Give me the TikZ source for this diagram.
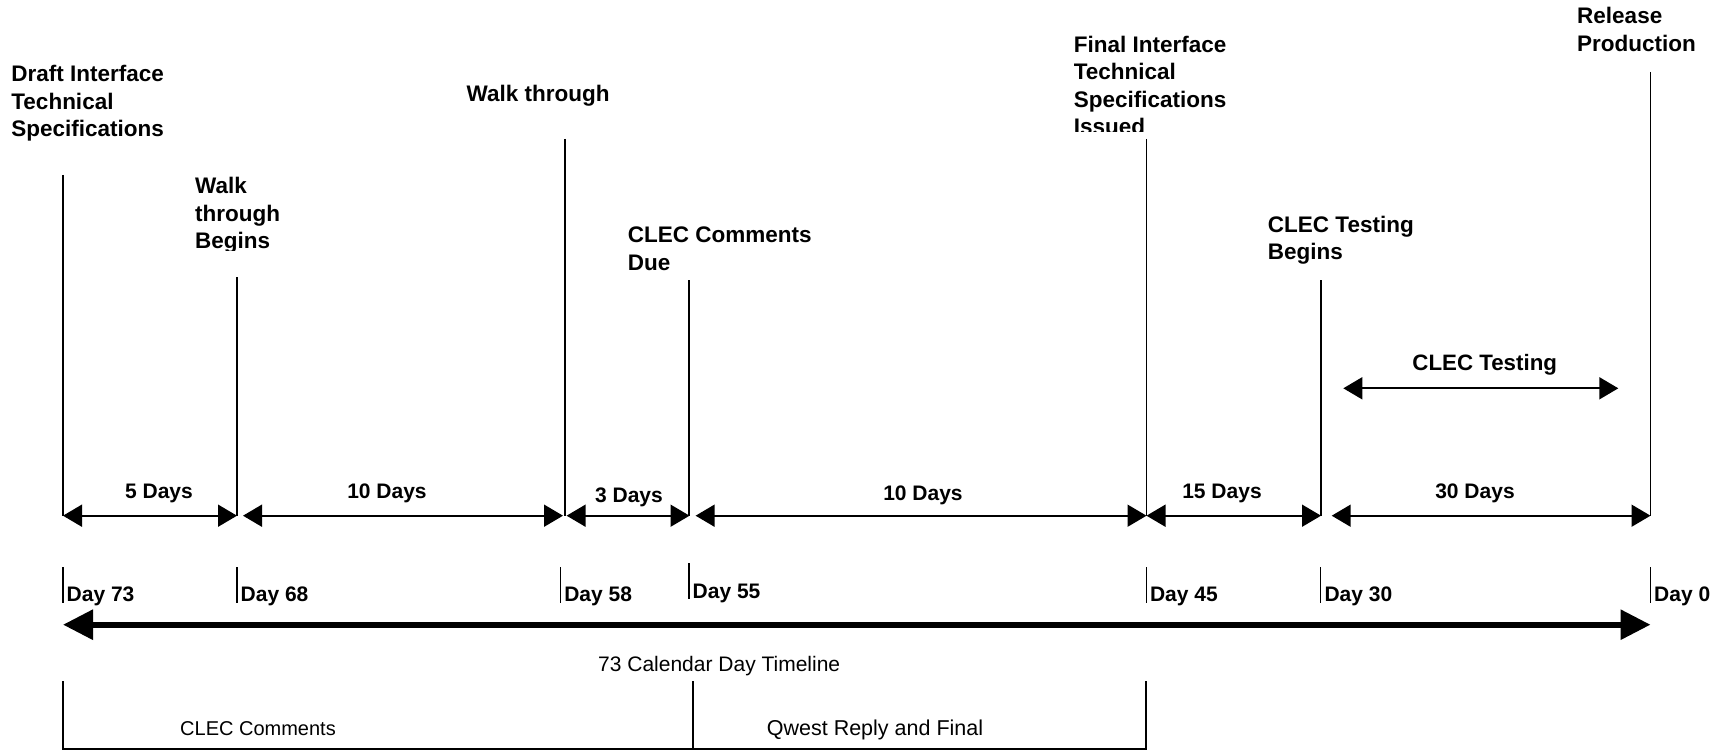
\documentclass[tikz,border=0pt]{standalone}
\usepackage{fontspec}
\setmainfont{Liberation Sans}
\usetikzlibrary{arrows.meta}
\begin{document}
\begin{tikzpicture}[x=1pt,y=-1pt,
  evline/.style={line width=1.8pt},
  dimarrow/.style={line width=1.7pt, {Triangle[length=19pt,width=22pt]}-{Triangle[length=19pt,width=22pt]}},
  bigarrow/.style={line width=6pt, {Triangle[length=30pt,width=29pt]}-{Triangle[length=30pt,width=29pt]}},
  tickline/.style={line width=1.3pt},
  bracketline/.style={line width=1.8pt},
  evlabel/.style={anchor=base west, inner sep=0pt, font=\fontsize{22.5}{27.5}\selectfont\bfseries},
  durlabel/.style={anchor=base, inner sep=0pt, font=\fontsize{21}{25}\selectfont\bfseries},
  daylabel/.style={anchor=base west, inner sep=0pt, font=\fontsize{21}{25}\selectfont\bfseries},
  plainlabel/.style={anchor=base, inner sep=0pt, font=\fontsize{21}{25}\selectfont},
]
\useasboundingbox (0,0) rectangle (1720,751);

% event lines
\coordinate (eA1) at (63,175);    \coordinate (eA2) at (63,516);
\coordinate (eB1) at (237,277);   \coordinate (eB2) at (237,516);
\coordinate (eC1) at (565,139);   \coordinate (eC2) at (565,516);
\coordinate (eD1) at (689,280);   \coordinate (eD2) at (689,516);
\coordinate (eE1) at (1146.5,139);\coordinate (eE2) at (1146.5,516);
\coordinate (eF1) at (1321,280);  \coordinate (eF2) at (1321,516);
\coordinate (eG1) at (1650.5,72); \coordinate (eG2) at (1650.5,516);
\foreach \e in {A,B,C,D,E,F,G} \draw[evline] (e\e1) -- (e\e2);

% event labels
\node[evlabel] (lA) at (11.2,81.7) {\vtop{\hbox{Draft Interface}\hbox{Technical}\hbox{Specifications}}};
\begin{scope}
\clip (150,150) rectangle (400,251);
\node[evlabel] (lB) at (195,194) {\vtop{\hbox{Walk}\hbox{through}\hbox{Begins}}};
\end{scope}
\node[evlabel] (lC) at (466.5,101.7) {Walk through};
\node[evlabel] (lD) at (627.7,242.7) {\vtop{\hbox{CLEC Comments}\hbox{Due}}};
\begin{scope}
\clip (1050,0) rectangle (1300,132);
\node[evlabel] (lE) at (1073.6,52.3) {\vtop{\hbox{Final Interface}\hbox{Technical}\hbox{Specifications}\hbox{Issued}}};
\end{scope}
\node[evlabel] (lF) at (1267.7,232.3) {\vtop{\hbox{CLEC Testing}\hbox{Begins}}};
\node[evlabel] (lG) at (1577,24) {\vtop{\hbox{Release}\hbox{Production}}};

% CLEC testing arrow
\coordinate (ct1) at (1343.3,388.3); \coordinate (ct2) at (1618.3,388.3);
\draw[dimarrow] (ct1) -- (ct2);
\node[durlabel, font=\fontsize{22.3}{26}\selectfont\bfseries] (ctl) at (1484.7,370.7) {CLEC Testing};

% duration arrows
\coordinate (a1) at (63,515.7);    \coordinate (a2) at (237,515.7);
\coordinate (a3) at (243,515.7);   \coordinate (a4) at (563,515.7);
\coordinate (a5) at (566.6,515.7); \coordinate (a6) at (689.5,515.7);
\coordinate (a7) at (695.6,515.7); \coordinate (a8) at (1146.5,515.7);
\coordinate (a9) at (1146.5,515.7);\coordinate (a10) at (1321,515.7);
\coordinate (a11) at (1331.7,515.7);\coordinate (a12) at (1650.5,515.7);
\draw[dimarrow] (a1) -- (a2);
\draw[dimarrow] (a3) -- (a4);
\draw[dimarrow] (a5) -- (a6);
\draw[dimarrow] (a7) -- (a8);
\draw[dimarrow] (a9) -- (a10);
\draw[dimarrow] (a11) -- (a12);
\node[durlabel] (d1) at (159,498.3) {5 Days};
\node[durlabel] (d2) at (387,498) {10 Days};
\node[durlabel] (d3) at (629,502) {3 Days};
\node[durlabel] (d4) at (923,500) {10 Days};
\node[durlabel] (d5) at (1222,498) {15 Days};
\node[durlabel] (d6) at (1475,498.3) {30 Days};

% day ticks and labels
\foreach \x/\n in {63/73, 237/68, 560.6/58, 1146.3/45, 1320.8/30, 1650.5/0} {
  \draw[tickline] (\x,567) -- (\x,602.7);
  \node[daylabel] (day\n) at (\x+3.5,601.7) {Day \n};
}
\draw[tickline] (689,563) -- (689,599);
\node[daylabel] (day55) at (692.5,598.7) {Day 55};

% main timeline
\coordinate (tl1) at (63,624.7); \coordinate (tl2) at (1650.5,624.7);
\draw[bigarrow] (tl1) -- (tl2);
\node[plainlabel, anchor=base west] (tll) at (598,671.7) {73 Calendar Day Timeline};

% bottom bracket
\coordinate (b1) at (63,681); \coordinate (b2) at (63,749.3);
\coordinate (b3) at (1146.3,749.3); \coordinate (b4) at (1146.3,681);
\coordinate (b5) at (692.8,681); \coordinate (b6) at (692.8,749.3);
\draw[bracketline] (b1) -- (b2) -- (b3) -- (b4);
\draw[bracketline] (b5) -- (b6);
\node[plainlabel, font=\fontsize{20}{24}\selectfont] (cc) at (258,735.7) {CLEC Comments};
\node[plainlabel, font=\fontsize{21.5}{25}\selectfont] (qr) at (875,735.5) {Qwest Reply and Final};
\end{tikzpicture}
\end{document}
